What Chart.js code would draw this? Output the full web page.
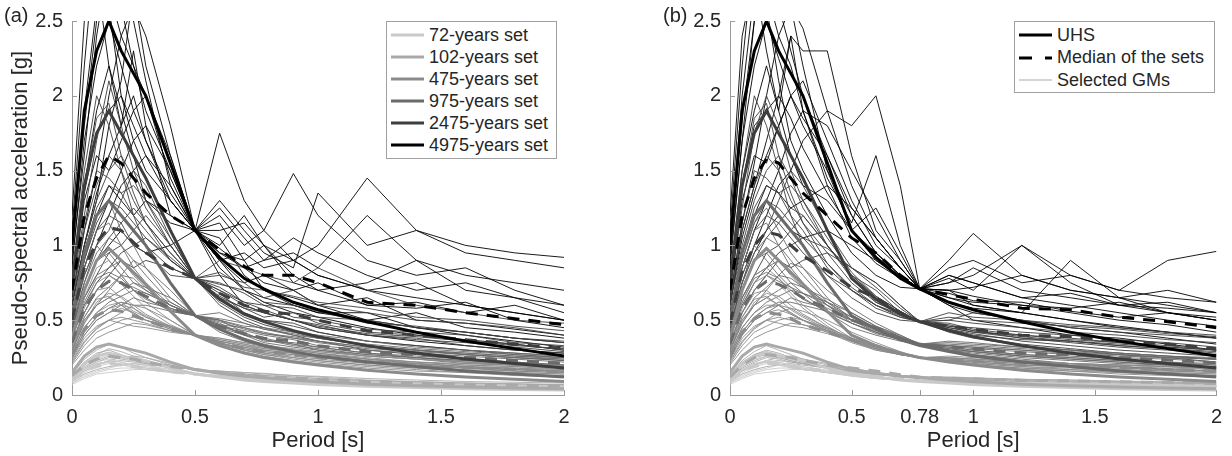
<!DOCTYPE html>
<html><head><meta charset="utf-8">
<script src="https://cdn.jsdelivr.net/npm/chart.js@4.4.1/dist/chart.umd.min.js"></script>
<style>
body{margin:0;background:#fff;width:1232px;height:456px;overflow:hidden;position:relative;font-family:'Liberation Sans',Arial,Helvetica,sans-serif;}
canvas{position:absolute;top:0}
#ca{left:0}
#cb{left:616px}
.lbl{position:absolute;font-size:20px;color:#262626;line-height:20px}
.legend{position:absolute;border:1px solid #a0a0a0;background:#fff;box-sizing:border-box}
.row{position:absolute;left:0;height:22px;display:flex;align-items:center;font-size:18px;color:#262626;white-space:nowrap}
.row svg{margin-left:4px;margin-right:5px}
</style></head>
<body>
<canvas id="ca" width="616" height="456"></canvas>
<canvas id="cb" width="616" height="456"></canvas>
<div class="lbl" style="left:4px;top:5px">(a)</div>
<div class="lbl" style="left:663px;top:5px">(b)</div>
<div class="legend" id="lega" style="left:386px;top:21px;width:171px;height:138px"></div>
<div class="legend" id="legb" style="left:1014px;top:21px;width:201px;height:72px"></div>
<script>
// ---------------- DATA ----------------
const PERIODS = [0, 0.05, 0.1, 0.15, 0.2, 0.25, 0.3, 0.4, 0.5, 0.6, 0.7, 0.78, 0.9, 1.0, 1.2, 1.4, 1.6, 1.8, 2.0];
const SET_LABELS = ['72-years set', '102-years set', '475-years set', '975-years set', '2475-years set', '4975-years set'];
const SET_COLORS = ['#c9c9c9', '#a9a9a9', '#8b8b8b', '#6b6b6b', '#3d3d3d', '#000000'];
const X_TICKS_A = [0, 0.5, 1, 1.5, 2];
const X_TICKS_B = [0, 0.5, 0.78, 1, 1.5, 2];
const Y_TICKS = [0, 0.5, 1, 1.5, 2, 2.5];
const LEGEND_B = ['UHS', 'Median of the sets', 'Selected GMs'];

// Uniform hazard spectra (same in both panels)
const UHS_72   = [0.12, 0.21, 0.26, 0.28, 0.26, 0.245, 0.23, 0.18, 0.14, 0.12, 0.1, 0.09, 0.08, 0.07, 0.058, 0.05, 0.042, 0.037, 0.033];
const UHS_102  = [0.15, 0.26, 0.32, 0.34, 0.32, 0.3, 0.28, 0.22, 0.17, 0.145, 0.125, 0.115, 0.1, 0.088, 0.072, 0.062, 0.053, 0.047, 0.042];
const UHS_475  = [0.37, 0.7, 0.9, 0.98, 0.9, 0.82, 0.74, 0.56, 0.4, 0.33, 0.28, 0.25, 0.22, 0.2, 0.165, 0.14, 0.12, 0.105, 0.09];
const UHS_975  = [0.5, 0.95, 1.2, 1.3, 1.2, 1.1, 1.0, 0.75, 0.53, 0.44, 0.37, 0.33, 0.29, 0.26, 0.22, 0.19, 0.16, 0.14, 0.12];
const UHS_2475 = [0.72, 1.4, 1.75, 1.9, 1.75, 1.6, 1.45, 1.1, 0.78, 0.64, 0.54, 0.49, 0.43, 0.39, 0.33, 0.28, 0.24, 0.21, 0.18];
const UHS_4975 = [1.0, 1.9, 2.3, 2.5, 2.3, 2.15, 2.0, 1.55, 1.1, 0.92, 0.78, 0.71, 0.62, 0.57, 0.49, 0.42, 0.36, 0.31, 0.26];

// Medians of the sets, panel (a) (conditioned at 0.5 s)
const MED_A_72   = [0.1, 0.16, 0.19, 0.21, 0.2, 0.19, 0.18, 0.155, 0.14, 0.125, 0.11, 0.1, 0.092, 0.085, 0.073, 0.065, 0.058, 0.052, 0.048];
const MED_A_102  = [0.13, 0.2, 0.24, 0.26, 0.25, 0.24, 0.22, 0.19, 0.17, 0.15, 0.135, 0.125, 0.115, 0.105, 0.09, 0.08, 0.072, 0.065, 0.06];
const MED_A_475  = [0.27, 0.44, 0.53, 0.57, 0.56, 0.53, 0.5, 0.44, 0.4, 0.35, 0.31, 0.29, 0.27, 0.25, 0.22, 0.2, 0.185, 0.17, 0.155];
const MED_A_975  = [0.35, 0.58, 0.7, 0.76, 0.75, 0.7, 0.66, 0.58, 0.53, 0.46, 0.41, 0.38, 0.36, 0.33, 0.29, 0.27, 0.25, 0.23, 0.21];
const MED_A_2475 = [0.5, 0.85, 1.02, 1.12, 1.1, 1.02, 0.95, 0.85, 0.78, 0.68, 0.6, 0.56, 0.54, 0.5, 0.43, 0.4, 0.37, 0.34, 0.31];
const MED_A_4975 = [0.7, 1.2, 1.45, 1.6, 1.55, 1.45, 1.35, 1.2, 1.1, 0.97, 0.86, 0.8, 0.8, 0.75, 0.62, 0.6, 0.55, 0.51, 0.47];

// Medians of the sets, panel (b) (conditioned at 0.78 s)
const MED_B_72   = [0.095, 0.16, 0.19, 0.21, 0.21, 0.19, 0.18, 0.16, 0.14, 0.125, 0.105, 0.095, 0.09, 0.085, 0.078, 0.075, 0.07, 0.066, 0.06];
const MED_B_102  = [0.12, 0.2, 0.25, 0.27, 0.26, 0.25, 0.23, 0.2, 0.18, 0.16, 0.135, 0.12, 0.113, 0.108, 0.098, 0.095, 0.088, 0.083, 0.077];
const MED_B_475  = [0.25, 0.42, 0.51, 0.55, 0.54, 0.51, 0.47, 0.42, 0.37, 0.33, 0.28, 0.25, 0.235, 0.225, 0.205, 0.2, 0.185, 0.17, 0.16];
const MED_B_975  = [0.34, 0.58, 0.7, 0.76, 0.74, 0.7, 0.65, 0.58, 0.5, 0.45, 0.38, 0.34, 0.32, 0.31, 0.28, 0.27, 0.25, 0.235, 0.215];
const MED_B_2475 = [0.48, 0.83, 1.0, 1.09, 1.07, 1.0, 0.93, 0.83, 0.72, 0.65, 0.55, 0.49, 0.46, 0.44, 0.4, 0.39, 0.36, 0.34, 0.31];
const MED_B_4975 = [0.7, 1.2, 1.45, 1.58, 1.55, 1.45, 1.35, 1.2, 1.05, 0.95, 0.8, 0.71, 0.67, 0.64, 0.58, 0.57, 0.52, 0.49, 0.45];

// Selected ground motions, panel (a)
const GM_A_72 = [
 [0.11, 0.19, 0.24, 0.27, 0.25, 0.22, 0.2, 0.16, 0.14, 0.12, 0.1, 0.095, 0.085, 0.075, 0.065, 0.055, 0.05, 0.045, 0.04],
 [0.08, 0.13, 0.16, 0.18, 0.2, 0.21, 0.2, 0.17, 0.14, 0.13, 0.12, 0.11, 0.1, 0.095, 0.085, 0.075, 0.068, 0.062, 0.058],
 [0.1, 0.16, 0.2, 0.22, 0.21, 0.2, 0.18, 0.16, 0.14, 0.12, 0.105, 0.095, 0.09, 0.08, 0.07, 0.06, 0.055, 0.05, 0.045],
 [0.07, 0.11, 0.14, 0.15, 0.16, 0.17, 0.17, 0.155, 0.14, 0.13, 0.12, 0.115, 0.105, 0.1, 0.09, 0.08, 0.072, 0.066, 0.06],
 [0.09, 0.15, 0.19, 0.21, 0.2, 0.19, 0.17, 0.15, 0.14, 0.12, 0.11, 0.1, 0.09, 0.085, 0.075, 0.065, 0.058, 0.053, 0.048],
 [0.1, 0.17, 0.22, 0.24, 0.22, 0.2, 0.19, 0.16, 0.14, 0.125, 0.11, 0.1, 0.095, 0.085, 0.075, 0.065, 0.06, 0.055, 0.05],
 [0.09, 0.16, 0.2, 0.23, 0.22, 0.2, 0.18, 0.155, 0.14, 0.125, 0.11, 0.1, 0.09, 0.082, 0.072, 0.064, 0.058, 0.053, 0.05],
 [0.08, 0.12, 0.15, 0.17, 0.18, 0.18, 0.17, 0.155, 0.14, 0.128, 0.118, 0.11, 0.1, 0.094, 0.084, 0.076, 0.07, 0.065, 0.06],
 [0.1, 0.17, 0.21, 0.22, 0.2, 0.19, 0.18, 0.16, 0.14, 0.12, 0.105, 0.098, 0.088, 0.08, 0.07, 0.062, 0.056, 0.051, 0.047]
];
const GM_A_102 = [
 [0.14, 0.24, 0.3, 0.34, 0.32, 0.28, 0.25, 0.2, 0.17, 0.15, 0.13, 0.12, 0.1, 0.09, 0.08, 0.07, 0.06, 0.055, 0.05],
 [0.1, 0.16, 0.2, 0.23, 0.25, 0.26, 0.25, 0.21, 0.17, 0.16, 0.15, 0.14, 0.13, 0.12, 0.1, 0.09, 0.08, 0.075, 0.07],
 [0.12, 0.2, 0.26, 0.28, 0.26, 0.24, 0.22, 0.19, 0.17, 0.14, 0.12, 0.11, 0.1, 0.09, 0.075, 0.065, 0.06, 0.055, 0.05],
 [0.09, 0.14, 0.17, 0.19, 0.2, 0.21, 0.2, 0.19, 0.17, 0.16, 0.15, 0.145, 0.13, 0.125, 0.11, 0.1, 0.09, 0.085, 0.08],
 [0.13, 0.22, 0.28, 0.3, 0.27, 0.24, 0.22, 0.19, 0.17, 0.15, 0.13, 0.12, 0.11, 0.1, 0.085, 0.075, 0.068, 0.06, 0.055],
 [0.11, 0.18, 0.22, 0.25, 0.24, 0.23, 0.21, 0.19, 0.17, 0.15, 0.14, 0.13, 0.12, 0.11, 0.095, 0.085, 0.075, 0.07, 0.065],
 [0.12, 0.21, 0.27, 0.31, 0.29, 0.26, 0.23, 0.19, 0.17, 0.15, 0.13, 0.12, 0.11, 0.1, 0.085, 0.075, 0.068, 0.062, 0.056],
 [0.1, 0.17, 0.21, 0.22, 0.23, 0.22, 0.21, 0.19, 0.17, 0.155, 0.14, 0.13, 0.12, 0.11, 0.095, 0.088, 0.08, 0.074, 0.068],
 [0.11, 0.19, 0.23, 0.26, 0.25, 0.24, 0.22, 0.2, 0.17, 0.145, 0.13, 0.12, 0.105, 0.1, 0.088, 0.078, 0.07, 0.064, 0.06]
];
const GM_A_475 = [
 [0.38, 0.65, 0.85, 0.9, 0.8, 0.7, 0.62, 0.5, 0.4, 0.34, 0.3, 0.27, 0.24, 0.22, 0.19, 0.17, 0.15, 0.14, 0.13],
 [0.22, 0.35, 0.45, 0.5, 0.55, 0.6, 0.58, 0.5, 0.4, 0.38, 0.35, 0.33, 0.3, 0.28, 0.25, 0.22, 0.2, 0.19, 0.17],
 [0.3, 0.5, 0.6, 0.65, 0.6, 0.55, 0.5, 0.45, 0.4, 0.33, 0.29, 0.26, 0.23, 0.21, 0.18, 0.16, 0.15, 0.13, 0.12],
 [0.2, 0.3, 0.38, 0.42, 0.45, 0.48, 0.47, 0.43, 0.4, 0.37, 0.34, 0.32, 0.3, 0.29, 0.26, 0.24, 0.22, 0.2, 0.19],
 [0.33, 0.55, 0.7, 0.72, 0.65, 0.58, 0.52, 0.45, 0.4, 0.35, 0.31, 0.28, 0.26, 0.24, 0.21, 0.19, 0.17, 0.16, 0.15],
 [0.25, 0.4, 0.5, 0.55, 0.58, 0.55, 0.5, 0.44, 0.4, 0.36, 0.32, 0.3, 0.28, 0.26, 0.23, 0.21, 0.19, 0.18, 0.16],
 [0.27, 0.45, 0.55, 0.6, 0.62, 0.56, 0.52, 0.46, 0.4, 0.34, 0.32, 0.29, 0.27, 0.25, 0.22, 0.2, 0.18, 0.17, 0.16],
 [0.24, 0.38, 0.46, 0.5, 0.52, 0.5, 0.48, 0.43, 0.4, 0.36, 0.33, 0.31, 0.29, 0.27, 0.24, 0.22, 0.2, 0.19, 0.18],
 [0.34, 0.58, 0.75, 0.8, 0.74, 0.66, 0.58, 0.47, 0.4, 0.34, 0.3, 0.27, 0.25, 0.23, 0.2, 0.18, 0.16, 0.15, 0.14],
 [0.21, 0.33, 0.42, 0.46, 0.5, 0.52, 0.5, 0.46, 0.4, 0.37, 0.34, 0.31, 0.29, 0.27, 0.24, 0.22, 0.21, 0.2, 0.18],
 [0.29, 0.48, 0.62, 0.68, 0.66, 0.6, 0.54, 0.46, 0.4, 0.35, 0.3, 0.28, 0.25, 0.23, 0.2, 0.18, 0.16, 0.15, 0.14],
 [0.23, 0.36, 0.44, 0.5, 0.48, 0.46, 0.45, 0.42, 0.4, 0.38, 0.35, 0.33, 0.31, 0.29, 0.26, 0.24, 0.22, 0.21, 0.2],
 [0.31, 0.52, 0.64, 0.66, 0.6, 0.54, 0.5, 0.44, 0.4, 0.35, 0.31, 0.29, 0.27, 0.25, 0.22, 0.2, 0.18, 0.17, 0.16],
 [0.26, 0.42, 0.52, 0.58, 0.6, 0.58, 0.53, 0.45, 0.4, 0.36, 0.33, 0.3, 0.28, 0.26, 0.23, 0.21, 0.19, 0.18, 0.17]
];
const GM_A_975 = [
 [0.5, 0.9, 1.2, 1.3, 1.1, 1.0, 0.85, 0.65, 0.53, 0.45, 0.4, 0.35, 0.32, 0.3, 0.26, 0.24, 0.21, 0.2, 0.18],
 [0.3, 0.5, 0.6, 0.7, 0.8, 0.9, 0.85, 0.7, 0.53, 0.55, 0.48, 0.44, 0.4, 0.38, 0.33, 0.3, 0.28, 0.26, 0.24],
 [0.4, 0.7, 0.9, 0.95, 0.85, 0.75, 0.7, 0.6, 0.53, 0.42, 0.36, 0.32, 0.28, 0.26, 0.22, 0.2, 0.18, 0.16, 0.15],
 [0.25, 0.4, 0.5, 0.55, 0.6, 0.65, 0.62, 0.58, 0.53, 0.5, 0.46, 0.45, 0.42, 0.4, 0.36, 0.32, 0.3, 0.28, 0.26],
 [0.45, 0.8, 1.0, 0.9, 0.8, 0.7, 0.65, 0.56, 0.53, 0.48, 0.4, 0.38, 0.34, 0.3, 0.27, 0.25, 0.22, 0.2, 0.19],
 [0.35, 0.55, 0.7, 0.8, 0.75, 0.72, 0.68, 0.6, 0.53, 0.46, 0.43, 0.4, 0.37, 0.33, 0.3, 0.28, 0.26, 0.24, 0.22],
 [0.38, 0.65, 0.8, 0.85, 0.9, 0.8, 0.72, 0.58, 0.53, 0.5, 0.42, 0.36, 0.35, 0.32, 0.28, 0.25, 0.23, 0.21, 0.2],
 [0.28, 0.45, 0.55, 0.62, 0.66, 0.7, 0.68, 0.62, 0.53, 0.47, 0.45, 0.42, 0.38, 0.35, 0.31, 0.29, 0.27, 0.25, 0.23],
 [0.42, 0.75, 0.95, 1.05, 1.0, 0.9, 0.8, 0.62, 0.53, 0.47, 0.4, 0.37, 0.33, 0.31, 0.27, 0.25, 0.23, 0.21, 0.19],
 [0.3, 0.48, 0.6, 0.65, 0.7, 0.75, 0.72, 0.65, 0.53, 0.49, 0.44, 0.41, 0.38, 0.36, 0.32, 0.3, 0.27, 0.25, 0.24],
 [0.47, 0.85, 1.1, 1.15, 1.0, 0.85, 0.75, 0.6, 0.53, 0.44, 0.38, 0.34, 0.3, 0.28, 0.24, 0.21, 0.19, 0.17, 0.16],
 [0.33, 0.52, 0.65, 0.72, 0.8, 0.78, 0.7, 0.6, 0.53, 0.5, 0.45, 0.41, 0.39, 0.36, 0.32, 0.3, 0.28, 0.26, 0.25],
 [0.38, 0.62, 0.78, 0.82, 0.78, 0.7, 0.64, 0.57, 0.53, 0.46, 0.41, 0.37, 0.34, 0.32, 0.28, 0.26, 0.24, 0.22, 0.2],
 [0.27, 0.42, 0.52, 0.58, 0.62, 0.6, 0.6, 0.56, 0.53, 0.51, 0.48, 0.44, 0.41, 0.38, 0.34, 0.31, 0.29, 0.27, 0.25]
];
const GM_A_2475 = [
 [0.7, 1.2, 1.7, 2.1, 1.8, 1.5, 1.3, 1.0, 0.78, 0.7, 0.6, 0.55, 0.5, 0.45, 0.4, 0.38, 0.33, 0.3, 0.28],
 [0.45, 0.75, 1.0, 1.1, 1.3, 1.5, 1.4, 1.05, 0.78, 0.8, 0.75, 0.65, 0.7, 0.6, 0.55, 0.5, 0.48, 0.45, 0.4],
 [0.8, 1.5, 2.0, 1.8, 1.5, 1.2, 1.0, 0.85, 0.78, 0.6, 0.5, 0.45, 0.4, 0.36, 0.3, 0.27, 0.24, 0.22, 0.2],
 [0.35, 0.55, 0.7, 0.8, 0.9, 0.85, 0.9, 0.85, 0.78, 0.9, 0.85, 0.8, 0.75, 0.85, 0.7, 0.6, 0.55, 0.5, 0.48],
 [0.55, 0.95, 1.25, 1.4, 1.35, 1.2, 1.1, 0.9, 0.78, 0.65, 0.58, 0.52, 0.55, 0.48, 0.42, 0.4, 0.36, 0.34, 0.3],
 [0.4, 0.65, 0.8, 0.95, 1.0, 1.1, 1.2, 1.0, 0.78, 0.72, 0.62, 0.6, 0.58, 0.52, 0.5, 0.45, 0.42, 0.38, 0.35],
 [0.6, 1.1, 1.4, 1.6, 1.5, 1.3, 1.15, 0.95, 0.78, 0.75, 0.68, 0.6, 0.52, 0.5, 0.44, 0.42, 0.4, 0.35, 0.33],
 [0.5, 0.85, 1.1, 1.2, 1.15, 1.0, 0.95, 0.8, 0.78, 0.68, 0.55, 0.5, 0.46, 0.42, 0.36, 0.33, 0.3, 0.27, 0.25],
 [0.6, 1.0, 1.3, 1.5, 1.6, 1.45, 1.25, 1.0, 0.78, 0.65, 0.55, 0.5, 0.48, 0.42, 0.36, 0.33, 0.3, 0.28, 0.26],
 [0.42, 0.7, 0.9, 1.05, 1.15, 1.25, 1.15, 0.95, 0.78, 0.74, 0.7, 0.62, 0.6, 0.56, 0.48, 0.46, 0.42, 0.38, 0.36],
 [0.75, 1.4, 1.85, 1.95, 1.6, 1.35, 1.15, 0.9, 0.78, 0.62, 0.52, 0.47, 0.42, 0.38, 0.33, 0.3, 0.27, 0.25, 0.23],
 [0.38, 0.6, 0.75, 0.85, 0.95, 1.0, 1.05, 0.92, 0.78, 0.82, 0.72, 0.7, 0.66, 0.62, 0.58, 0.52, 0.5, 0.46, 0.43],
 [0.52, 0.9, 1.15, 1.3, 1.25, 1.15, 1.05, 0.9, 0.78, 0.7, 0.62, 0.57, 0.5, 0.47, 0.4, 0.37, 0.35, 0.32, 0.29],
 [0.65, 1.15, 1.5, 1.45, 1.35, 1.4, 1.3, 1.05, 0.78, 0.66, 0.58, 0.55, 0.5, 0.46, 0.41, 0.39, 0.36, 0.33, 0.31]
];
const GM_A_4975 = [
 [0.9, 1.6, 2.4, 2.9, 2.6, 2.2, 1.9, 1.5, 1.1, 1.75, 1.3, 1.1, 0.9, 0.8, 0.7, 0.75, 0.6, 0.55, 0.5],
 [0.6, 1.0, 1.3, 1.8, 2.1, 2.7, 2.2, 1.6, 1.1, 1.2, 1.0, 1.1, 1.48, 1.2, 0.9, 0.8, 0.85, 0.7, 0.6],
 [1.1, 2.2, 3.1, 2.6, 2.0, 1.7, 1.5, 1.3, 1.1, 0.8, 0.6, 0.55, 0.5, 0.45, 0.4, 0.36, 0.33, 0.3, 0.28],
 [0.5, 0.8, 1.0, 1.2, 1.4, 1.5, 1.6, 1.4, 1.1, 0.9, 0.95, 0.85, 0.9, 1.0, 1.45, 1.1, 0.95, 0.9, 0.85],
 [0.8, 1.4, 1.9, 2.2, 1.9, 1.6, 1.3, 1.15, 1.1, 1.05, 0.8, 0.7, 0.65, 0.6, 0.5, 0.55, 0.45, 0.42, 0.38],
 [0.45, 0.7, 0.9, 1.0, 1.1, 1.0, 0.95, 1.0, 1.1, 1.3, 1.1, 0.95, 0.85, 1.35, 1.0, 1.1, 1.0, 0.95, 0.92],
 [0.7, 1.3, 1.6, 1.5, 1.7, 1.9, 2.0, 1.6, 1.1, 0.9, 0.75, 0.8, 0.7, 0.6, 0.65, 0.5, 0.48, 0.44, 0.4],
 [1.0, 1.9, 2.6, 3.0, 2.8, 2.5, 2.1, 1.4, 1.1, 0.95, 0.9, 1.0, 0.8, 0.7, 0.6, 0.62, 0.55, 0.6, 0.5],
 [0.55, 0.9, 1.2, 1.4, 1.3, 1.2, 1.3, 1.2, 1.1, 1.0, 1.2, 1.0, 0.75, 0.7, 0.75, 0.9, 0.7, 0.65, 0.55],
 [1.2, 2.5, 2.8, 2.2, 1.8, 2.3, 1.8, 1.2, 1.1, 1.15, 0.9, 0.7, 0.6, 0.55, 0.55, 0.45, 0.4, 0.36, 0.32],
 [0.65, 1.1, 1.5, 2.0, 2.4, 2.6, 2.4, 1.8, 1.1, 0.85, 0.7, 0.65, 0.6, 0.55, 0.5, 0.45, 0.42, 0.38, 0.35],
 [0.85, 1.7, 2.2, 2.5, 2.2, 1.9, 1.7, 1.35, 1.1, 1.25, 1.05, 0.9, 1.05, 0.95, 0.8, 0.7, 0.75, 0.65, 0.6],
 [0.5, 0.85, 1.1, 1.3, 1.5, 1.7, 1.8, 1.5, 1.1, 0.95, 0.85, 0.9, 0.95, 0.85, 1.2, 0.9, 0.8, 0.75, 0.7],
 [0.95, 1.8, 2.5, 2.7, 2.4, 2.2, 2.0, 1.45, 1.1, 0.9, 0.7, 0.62, 0.55, 0.52, 0.45, 0.4, 0.37, 0.34, 0.3],
 [0.6, 1.0, 1.35, 1.6, 1.8, 2.0, 1.7, 1.3, 1.1, 1.1, 1.15, 1.0, 0.9, 0.8, 0.7, 0.65, 0.6, 0.55, 0.5],
 [0.75, 1.35, 1.75, 1.9, 2.0, 1.8, 1.6, 1.3, 1.1, 0.98, 0.85, 0.75, 0.7, 0.75, 0.6, 0.58, 0.62, 0.5, 0.45]
];

// Selected ground motions, panel (b)
const GM_B_72 = [
 [0.11, 0.19, 0.24, 0.26, 0.24, 0.21, 0.19, 0.16, 0.13, 0.115, 0.1, 0.095, 0.085, 0.078, 0.07, 0.062, 0.057, 0.052, 0.048],
 [0.08, 0.13, 0.16, 0.18, 0.2, 0.2, 0.19, 0.165, 0.14, 0.12, 0.105, 0.095, 0.092, 0.088, 0.082, 0.077, 0.072, 0.068, 0.064],
 [0.1, 0.16, 0.2, 0.22, 0.21, 0.19, 0.17, 0.15, 0.125, 0.11, 0.1, 0.095, 0.085, 0.08, 0.07, 0.064, 0.058, 0.053, 0.05],
 [0.07, 0.11, 0.14, 0.15, 0.16, 0.17, 0.17, 0.15, 0.13, 0.115, 0.1, 0.095, 0.093, 0.09, 0.085, 0.08, 0.075, 0.07, 0.066],
 [0.09, 0.15, 0.19, 0.21, 0.2, 0.18, 0.17, 0.15, 0.13, 0.11, 0.1, 0.095, 0.088, 0.082, 0.075, 0.07, 0.064, 0.06, 0.056],
 [0.1, 0.17, 0.21, 0.23, 0.22, 0.2, 0.18, 0.155, 0.135, 0.115, 0.102, 0.095, 0.09, 0.085, 0.078, 0.072, 0.067, 0.062, 0.058],
 [0.09, 0.16, 0.2, 0.23, 0.22, 0.2, 0.18, 0.15, 0.13, 0.113, 0.1, 0.095, 0.088, 0.083, 0.076, 0.07, 0.065, 0.06, 0.056],
 [0.08, 0.12, 0.15, 0.17, 0.18, 0.18, 0.17, 0.15, 0.128, 0.112, 0.1, 0.095, 0.092, 0.088, 0.082, 0.077, 0.072, 0.068, 0.064],
 [0.1, 0.17, 0.21, 0.22, 0.2, 0.19, 0.175, 0.15, 0.128, 0.11, 0.1, 0.095, 0.086, 0.08, 0.072, 0.066, 0.06, 0.056, 0.052]
];
const GM_B_102 = [
 [0.13, 0.23, 0.29, 0.33, 0.3, 0.27, 0.24, 0.2, 0.17, 0.15, 0.13, 0.12, 0.105, 0.095, 0.085, 0.075, 0.068, 0.062, 0.057],
 [0.1, 0.16, 0.2, 0.23, 0.25, 0.26, 0.24, 0.21, 0.18, 0.15, 0.13, 0.12, 0.12, 0.115, 0.105, 0.1, 0.09, 0.085, 0.08],
 [0.12, 0.2, 0.25, 0.27, 0.25, 0.23, 0.21, 0.18, 0.15, 0.135, 0.125, 0.12, 0.1, 0.09, 0.08, 0.07, 0.065, 0.06, 0.055],
 [0.09, 0.14, 0.17, 0.19, 0.2, 0.21, 0.2, 0.18, 0.16, 0.14, 0.13, 0.12, 0.118, 0.112, 0.104, 0.1, 0.094, 0.088, 0.082],
 [0.13, 0.22, 0.27, 0.29, 0.27, 0.24, 0.22, 0.19, 0.16, 0.14, 0.125, 0.12, 0.11, 0.1, 0.09, 0.083, 0.076, 0.07, 0.065],
 [0.11, 0.18, 0.22, 0.25, 0.24, 0.22, 0.21, 0.19, 0.165, 0.145, 0.13, 0.12, 0.113, 0.106, 0.097, 0.09, 0.084, 0.078, 0.072],
 [0.12, 0.21, 0.27, 0.3, 0.28, 0.25, 0.22, 0.19, 0.16, 0.14, 0.125, 0.12, 0.108, 0.1, 0.09, 0.082, 0.075, 0.069, 0.064],
 [0.1, 0.17, 0.21, 0.22, 0.23, 0.22, 0.21, 0.185, 0.16, 0.14, 0.127, 0.12, 0.115, 0.11, 0.1, 0.093, 0.086, 0.08, 0.075],
 [0.11, 0.19, 0.23, 0.26, 0.25, 0.23, 0.21, 0.18, 0.155, 0.138, 0.125, 0.12, 0.105, 0.098, 0.088, 0.08, 0.073, 0.067, 0.062]
];
const GM_B_475 = [
 [0.36, 0.62, 0.8, 0.85, 0.78, 0.68, 0.6, 0.48, 0.38, 0.32, 0.28, 0.25, 0.22, 0.2, 0.18, 0.16, 0.15, 0.14, 0.13],
 [0.22, 0.35, 0.45, 0.5, 0.55, 0.58, 0.56, 0.5, 0.42, 0.35, 0.29, 0.25, 0.26, 0.25, 0.23, 0.21, 0.2, 0.19, 0.17],
 [0.3, 0.5, 0.6, 0.65, 0.6, 0.55, 0.5, 0.42, 0.35, 0.3, 0.27, 0.25, 0.22, 0.2, 0.17, 0.16, 0.14, 0.13, 0.12],
 [0.2, 0.3, 0.38, 0.42, 0.45, 0.48, 0.47, 0.43, 0.38, 0.33, 0.28, 0.25, 0.25, 0.24, 0.22, 0.21, 0.2, 0.19, 0.18],
 [0.33, 0.55, 0.68, 0.7, 0.64, 0.57, 0.52, 0.44, 0.36, 0.31, 0.27, 0.25, 0.23, 0.21, 0.19, 0.18, 0.16, 0.15, 0.14],
 [0.25, 0.4, 0.5, 0.55, 0.57, 0.54, 0.5, 0.43, 0.37, 0.32, 0.28, 0.25, 0.24, 0.22, 0.2, 0.19, 0.18, 0.17, 0.16],
 [0.27, 0.45, 0.55, 0.6, 0.6, 0.55, 0.5, 0.44, 0.36, 0.31, 0.27, 0.25, 0.23, 0.22, 0.2, 0.19, 0.17, 0.16, 0.15],
 [0.24, 0.38, 0.46, 0.5, 0.52, 0.5, 0.47, 0.42, 0.37, 0.32, 0.28, 0.25, 0.24, 0.23, 0.21, 0.2, 0.19, 0.18, 0.17],
 [0.34, 0.58, 0.75, 0.8, 0.74, 0.66, 0.58, 0.46, 0.37, 0.31, 0.27, 0.25, 0.22, 0.21, 0.19, 0.17, 0.16, 0.15, 0.14],
 [0.21, 0.33, 0.42, 0.46, 0.5, 0.52, 0.5, 0.45, 0.38, 0.32, 0.28, 0.25, 0.25, 0.24, 0.22, 0.21, 0.2, 0.19, 0.18],
 [0.29, 0.48, 0.62, 0.68, 0.66, 0.6, 0.54, 0.45, 0.36, 0.3, 0.27, 0.25, 0.22, 0.2, 0.18, 0.17, 0.15, 0.14, 0.13],
 [0.23, 0.36, 0.44, 0.5, 0.48, 0.46, 0.45, 0.41, 0.36, 0.31, 0.27, 0.25, 0.245, 0.24, 0.22, 0.21, 0.2, 0.19, 0.18],
 [0.31, 0.52, 0.64, 0.66, 0.6, 0.54, 0.5, 0.43, 0.36, 0.31, 0.27, 0.25, 0.23, 0.22, 0.2, 0.19, 0.17, 0.16, 0.15],
 [0.26, 0.42, 0.52, 0.58, 0.6, 0.58, 0.53, 0.45, 0.38, 0.32, 0.28, 0.25, 0.24, 0.23, 0.21, 0.2, 0.18, 0.17, 0.16]
];
const GM_B_975 = [
 [0.5, 0.9, 1.15, 1.25, 1.1, 0.95, 0.85, 0.65, 0.5, 0.42, 0.37, 0.34, 0.3, 0.28, 0.25, 0.23, 0.21, 0.2, 0.18],
 [0.3, 0.5, 0.6, 0.7, 0.8, 0.88, 0.85, 0.7, 0.58, 0.48, 0.4, 0.34, 0.36, 0.35, 0.32, 0.3, 0.28, 0.26, 0.24],
 [0.4, 0.7, 0.9, 0.95, 0.85, 0.75, 0.68, 0.55, 0.45, 0.4, 0.36, 0.34, 0.3, 0.27, 0.23, 0.21, 0.19, 0.17, 0.16],
 [0.25, 0.4, 0.5, 0.55, 0.6, 0.65, 0.62, 0.58, 0.5, 0.45, 0.38, 0.34, 0.33, 0.32, 0.3, 0.28, 0.26, 0.25, 0.24],
 [0.45, 0.8, 1.0, 0.9, 0.8, 0.72, 0.65, 0.55, 0.48, 0.42, 0.37, 0.34, 0.31, 0.29, 0.26, 0.24, 0.22, 0.2, 0.19],
 [0.35, 0.55, 0.7, 0.8, 0.76, 0.72, 0.68, 0.6, 0.5, 0.44, 0.38, 0.34, 0.32, 0.3, 0.27, 0.26, 0.24, 0.22, 0.21],
 [0.38, 0.65, 0.8, 0.85, 0.9, 0.8, 0.72, 0.6, 0.52, 0.45, 0.39, 0.34, 0.3, 0.29, 0.26, 0.25, 0.23, 0.21, 0.2],
 [0.28, 0.45, 0.55, 0.62, 0.66, 0.7, 0.68, 0.62, 0.55, 0.46, 0.4, 0.34, 0.33, 0.31, 0.29, 0.27, 0.25, 0.24, 0.22],
 [0.42, 0.75, 0.95, 1.05, 1.0, 0.9, 0.8, 0.62, 0.5, 0.43, 0.38, 0.34, 0.31, 0.29, 0.26, 0.24, 0.22, 0.2, 0.19],
 [0.3, 0.48, 0.6, 0.65, 0.7, 0.75, 0.72, 0.64, 0.55, 0.46, 0.39, 0.34, 0.34, 0.33, 0.31, 0.29, 0.27, 0.25, 0.24],
 [0.47, 0.85, 1.1, 1.15, 1.0, 0.85, 0.75, 0.6, 0.48, 0.41, 0.37, 0.34, 0.3, 0.27, 0.24, 0.21, 0.19, 0.17, 0.16],
 [0.33, 0.52, 0.65, 0.72, 0.8, 0.78, 0.72, 0.62, 0.52, 0.44, 0.38, 0.34, 0.33, 0.32, 0.3, 0.28, 0.27, 0.25, 0.24],
 [0.38, 0.62, 0.78, 0.82, 0.78, 0.7, 0.64, 0.56, 0.48, 0.42, 0.37, 0.34, 0.32, 0.3, 0.27, 0.25, 0.23, 0.22, 0.2],
 [0.27, 0.42, 0.52, 0.58, 0.62, 0.62, 0.6, 0.56, 0.5, 0.44, 0.38, 0.34, 0.35, 0.34, 0.32, 0.3, 0.28, 0.26, 0.25]
];
const GM_B_2475 = [
 [0.7, 1.25, 1.75, 2.0, 1.8, 1.5, 1.3, 1.0, 0.8, 0.65, 0.55, 0.49, 0.45, 0.42, 0.38, 0.35, 0.32, 0.3, 0.27],
 [0.45, 0.75, 1.0, 1.1, 1.3, 1.5, 1.4, 1.1, 0.85, 0.75, 0.6, 0.49, 0.55, 0.52, 0.5, 0.47, 0.45, 0.42, 0.4],
 [0.8, 1.5, 2.0, 1.8, 1.5, 1.2, 1.0, 0.8, 0.65, 0.55, 0.5, 0.49, 0.42, 0.38, 0.33, 0.3, 0.27, 0.25, 0.22],
 [0.35, 0.55, 0.7, 0.8, 0.9, 0.85, 0.9, 0.95, 0.85, 0.75, 0.6, 0.49, 0.5, 0.55, 0.5, 0.45, 0.42, 0.4, 0.38],
 [0.55, 0.95, 1.25, 1.4, 1.35, 1.2, 1.1, 0.85, 0.7, 0.6, 0.52, 0.49, 0.48, 0.44, 0.4, 0.38, 0.35, 0.33, 0.3],
 [0.4, 0.65, 0.8, 0.95, 1.0, 1.1, 1.2, 1.0, 0.8, 0.7, 0.55, 0.49, 0.46, 0.45, 0.42, 0.4, 0.37, 0.35, 0.32],
 [0.6, 1.1, 1.4, 1.6, 1.5, 1.3, 1.15, 0.95, 0.75, 0.62, 0.55, 0.49, 0.44, 0.4, 0.37, 0.36, 0.33, 0.31, 0.29],
 [0.5, 0.85, 1.1, 1.2, 1.15, 1.05, 0.95, 0.8, 0.7, 0.6, 0.54, 0.49, 0.47, 0.43, 0.39, 0.36, 0.34, 0.32, 0.3],
 [0.6, 1.0, 1.3, 1.5, 1.6, 1.45, 1.25, 1.0, 0.78, 0.62, 0.54, 0.49, 0.44, 0.41, 0.36, 0.33, 0.3, 0.28, 0.26],
 [0.42, 0.7, 0.9, 1.05, 1.15, 1.25, 1.2, 1.0, 0.8, 0.66, 0.56, 0.49, 0.5, 0.48, 0.45, 0.42, 0.4, 0.37, 0.35],
 [0.75, 1.4, 1.85, 1.95, 1.6, 1.35, 1.15, 0.88, 0.7, 0.58, 0.52, 0.49, 0.43, 0.39, 0.34, 0.31, 0.28, 0.26, 0.24],
 [0.38, 0.6, 0.75, 0.85, 0.95, 1.0, 1.05, 0.98, 0.85, 0.72, 0.58, 0.49, 0.52, 0.5, 0.48, 0.46, 0.44, 0.41, 0.39],
 [0.52, 0.9, 1.15, 1.3, 1.25, 1.15, 1.05, 0.88, 0.72, 0.6, 0.53, 0.49, 0.46, 0.43, 0.38, 0.36, 0.33, 0.31, 0.28],
 [0.65, 1.15, 1.5, 1.45, 1.35, 1.4, 1.3, 1.05, 0.82, 0.66, 0.56, 0.49, 0.45, 0.42, 0.4, 0.37, 0.35, 0.32, 0.3]
];
const GM_B_4975 = [
 [0.9, 1.7, 2.5, 2.9, 2.6, 2.3, 2.0, 1.6, 1.2, 0.95, 0.8, 0.71, 0.8, 0.75, 0.65, 0.6, 0.55, 0.5, 0.46],
 [0.6, 1.1, 1.4, 1.7, 2.0, 2.4, 2.3, 2.3, 1.6, 1.1, 0.9, 0.71, 0.9, 1.08, 0.8, 0.7, 0.65, 0.6, 0.55],
 [1.1, 2.2, 3.0, 2.6, 2.1, 1.7, 1.5, 1.2, 0.95, 0.8, 0.72, 0.71, 0.6, 0.5, 0.45, 0.4, 0.38, 0.34, 0.3],
 [0.5, 0.8, 1.0, 1.2, 1.4, 1.5, 1.7, 1.9, 1.8, 2.0, 1.4, 0.71, 0.75, 0.8, 1.0, 0.8, 0.7, 0.65, 0.62],
 [0.8, 1.5, 1.9, 2.2, 1.9, 1.6, 1.4, 1.3, 1.1, 0.95, 0.8, 0.71, 0.7, 0.6, 0.55, 0.9, 0.65, 0.55, 0.5],
 [0.45, 0.75, 0.95, 1.1, 1.2, 1.1, 1.05, 1.1, 1.0, 0.9, 0.8, 0.71, 0.85, 0.9, 0.75, 0.8, 0.7, 0.9, 0.96],
 [0.7, 1.3, 1.6, 1.55, 1.8, 2.0, 2.1, 1.7, 1.3, 1.0, 0.85, 0.71, 0.65, 0.62, 0.6, 0.55, 0.5, 0.47, 0.42],
 [1.0, 2.0, 2.7, 3.0, 2.8, 2.6, 2.2, 1.5, 1.1, 0.9, 0.78, 0.71, 0.62, 0.58, 0.55, 0.5, 0.45, 0.42, 0.38],
 [0.55, 0.95, 1.2, 1.4, 1.35, 1.25, 1.3, 1.4, 1.25, 1.05, 0.85, 0.71, 0.78, 0.7, 1.0, 0.75, 0.6, 0.62, 0.55],
 [1.2, 2.4, 2.8, 2.3, 1.9, 2.4, 1.9, 1.45, 1.15, 1.6, 1.0, 0.71, 0.7, 0.66, 0.6, 0.58, 0.62, 0.55, 0.5],
 [0.65, 1.15, 1.55, 2.0, 2.4, 2.6, 2.45, 1.9, 1.4, 1.05, 0.85, 0.71, 0.65, 0.6, 0.55, 0.5, 0.46, 0.42, 0.38],
 [0.85, 1.7, 2.2, 2.5, 2.25, 2.0, 1.8, 1.5, 1.2, 0.95, 0.8, 0.71, 0.75, 0.85, 0.7, 0.65, 0.6, 0.55, 0.52],
 [0.5, 0.85, 1.1, 1.3, 1.5, 1.75, 1.9, 1.8, 1.5, 1.2, 0.9, 0.71, 0.7, 0.72, 0.8, 0.7, 0.65, 0.7, 0.62],
 [0.95, 1.85, 2.5, 2.7, 2.4, 2.2, 1.9, 1.4, 1.05, 0.88, 0.78, 0.71, 0.6, 0.55, 0.5, 0.45, 0.42, 0.38, 0.34],
 [0.6, 1.05, 1.35, 1.6, 1.8, 2.0, 1.85, 1.6, 1.25, 1.05, 0.85, 0.71, 0.8, 0.75, 0.65, 0.68, 0.6, 0.58, 0.55],
 [0.75, 1.4, 1.8, 1.9, 2.0, 1.85, 1.65, 1.35, 1.1, 1.25, 0.95, 0.71, 0.68, 0.63, 0.62, 0.56, 0.52, 0.55, 0.5]
];

// ---------------- BUILD ----------------
const FONT = "'Liberation Sans', Arial, Helvetica, sans-serif";
const TEXT_COLOR = '#262626';
const AXIS_COLOR = '#9a9a9a';
Chart.defaults.font.family = FONT;
Chart.defaults.color = TEXT_COLOR;

const UHS = [UHS_72, UHS_102, UHS_475, UHS_975, UHS_2475, UHS_4975];
const MED_A = [MED_A_72, MED_A_102, MED_A_475, MED_A_975, MED_A_2475, MED_A_4975];
const MED_B = [MED_B_72, MED_B_102, MED_B_475, MED_B_975, MED_B_2475, MED_B_4975];
const GM_A = [GM_A_72, GM_A_102, GM_A_475, GM_A_975, GM_A_2475, GM_A_4975];
const GM_B = [GM_B_72, GM_B_102, GM_B_475, GM_B_975, GM_B_2475, GM_B_4975];

const pts = vals => vals.map((v, i) => ({x: PERIODS[i], y: v}));

function buildDatasets(medians, gms) {
  const ds = [];
  // thick lines first (drawn on top): darkest set on top
  for (let s = 5; s >= 0; s--) {
    ds.push({data: pts(UHS[s]), borderColor: SET_COLORS[s], borderWidth: 3});
    ds.push({data: pts(medians[s]), borderColor: SET_COLORS[s], borderWidth: 3, borderDash: [12, 9]});
  }
  // thin selected ground motions: light sets drawn above darker ones
  for (let s = 0; s <= 5; s++) {
    gms[s].forEach(g => ds.push({data: pts(g), borderColor: SET_COLORS[s], borderWidth: 0.9}));
  }
  return ds;
}

const inwardTicks = {
  id: 'inwardTicks',
  afterDraw(chart) {
    const {ctx, chartArea: a, scales: {x, y}} = chart;
    ctx.save();
    ctx.strokeStyle = AXIS_COLOR;
    ctx.lineWidth = 1;
    ctx.beginPath();
    x.ticks.forEach(t => {
      const px = Math.round(x.getPixelForValue(t.value)) + 0.5;
      ctx.moveTo(px, a.bottom); ctx.lineTo(px, a.bottom - 5);
    });
    y.ticks.forEach(t => {
      const py = Math.round(y.getPixelForValue(t.value)) + 0.5;
      ctx.moveTo(a.left, py); ctx.lineTo(a.left + 5, py);
    });
    ctx.stroke();
    ctx.restore();
  }
};

function makeChart(id, medians, gms, xTicks, yWidth, rightPad) {
  return new Chart(document.getElementById(id), {
    type: 'line',
    data: {datasets: buildDatasets(medians, gms)},
    plugins: [inwardTicks],
    options: {
      responsive: false,
      animation: false,
      events: [],
      layout: {padding: {left: 0, right: rightPad, top: 12, bottom: 0}},
      elements: {point: {radius: 0}, line: {tension: 0, fill: false, borderCapStyle: 'butt', borderJoinStyle: 'miter'}},
      plugins: {legend: {display: false}, tooltip: {enabled: false}},
      scales: {
        x: {
          type: 'linear', min: 0, max: 2,
          grid: {display: false, drawTicks: false},
          border: {display: true, color: AXIS_COLOR, width: 1},
          afterBuildTicks: sc => { sc.ticks = xTicks.map(v => ({value: v})); },
          afterFit: sc => { sc.height = 61; },
          ticks: {padding: 10, font: {size: 20}, color: TEXT_COLOR, maxRotation: 0, autoSkip: false, callback: v => String(v)},
          title: {display: true, text: 'Period [s]', font: {size: 22}, color: TEXT_COLOR, padding: {top: 0, bottom: 2}}
        },
        y: {
          type: 'linear', min: 0, max: 2.5,
          grid: {display: false, drawTicks: false},
          border: {display: true, color: AXIS_COLOR, width: 1},
          afterBuildTicks: sc => { sc.ticks = Y_TICKS.map(v => ({value: v})); },
          afterFit: sc => { sc.width = yWidth; },
          ticks: {padding: 9, font: {size: 20}, color: TEXT_COLOR, autoSkip: false, callback: v => String(v)},
          title: {display: id === 'ca', text: 'Pseudo-spectral acceleration [g]', font: {size: 22}, color: TEXT_COLOR, padding: {top: 8, bottom: 0}}
        }
      }
    }
  });
}

makeChart('ca', MED_A, GM_A, X_TICKS_A, 72, 52);
makeChart('cb', MED_B, GM_B, X_TICKS_B, 114, 10);

// ---------------- LEGENDS (HTML text) ----------------
function sample(color, width, dash) {
  return '<svg width="33" height="8"><line x1="0" y1="4" x2="33" y2="4" stroke="' + color +
    '" stroke-width="' + width + '"' + (dash ? ' stroke-dasharray="' + dash + '"' : '') + '/></svg>';
}
const la = document.getElementById('lega');
SET_LABELS.forEach((t, i) => {
  const r = document.createElement('div');
  r.className = 'row';
  r.style.top = (2 + i * 22) + 'px';
  r.innerHTML = sample(SET_COLORS[i], 3) + '<span>' + t + '</span>';
  la.appendChild(r);
});
const lb = document.getElementById('legb');
const LB_STYLE = [['#000', 3, null], ['#000', 3, '13 13'], ['#a9a9a9', 1, null]];
LEGEND_B.forEach((t, i) => {
  const r = document.createElement('div');
  r.className = 'row';
  r.style.top = (2 + i * 22.5) + 'px';
  r.innerHTML = sample(LB_STYLE[i][0], LB_STYLE[i][1], LB_STYLE[i][2]) + '<span>' + t + '</span>';
  lb.appendChild(r);
});
</script>
</body></html>
